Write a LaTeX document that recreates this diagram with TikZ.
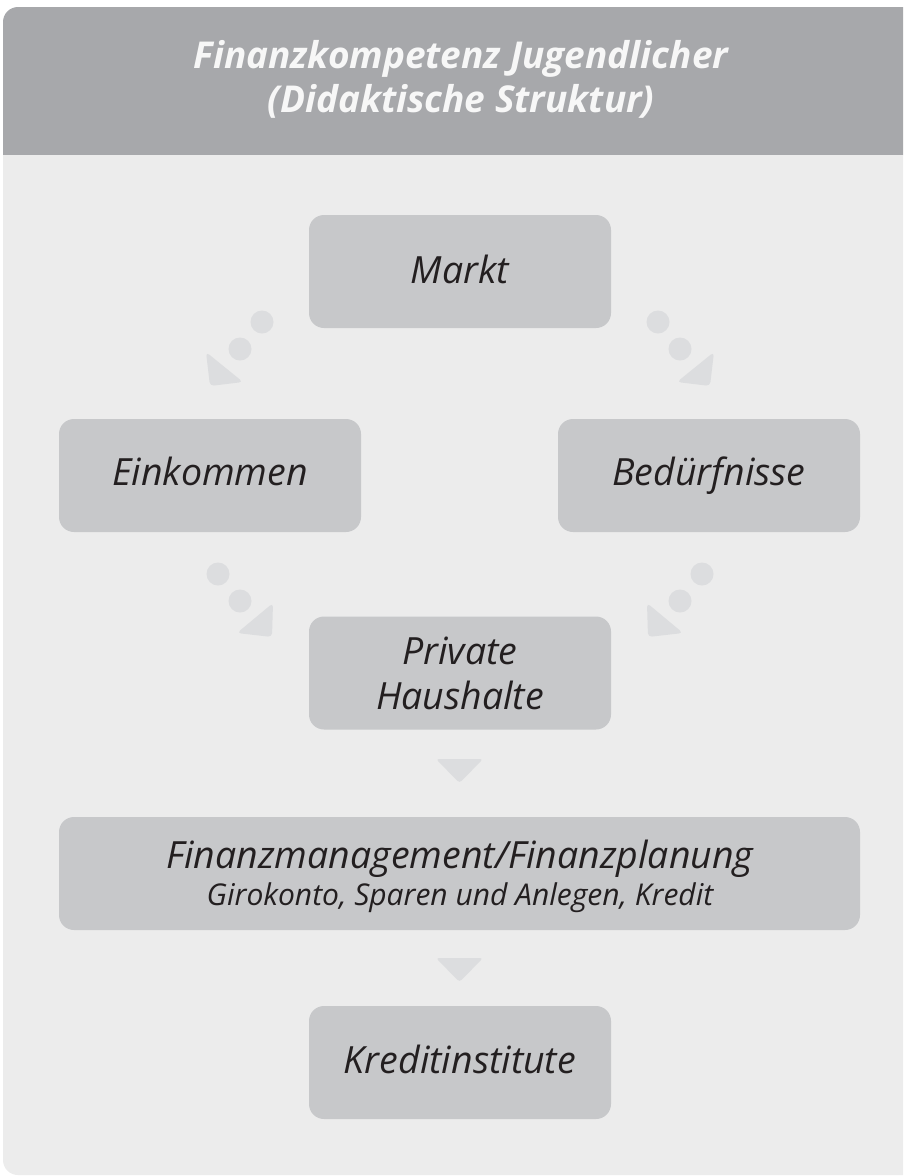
\documentclass[tikz,border=0pt]{standalone}
\usepackage{fontspec}
\setmainfont{Open Sans}
\definecolor{hdr}{HTML}{A7A8AB}
\definecolor{bodybg}{HTML}{ECECEC}
\definecolor{boxc}{HTML}{C7C8CA}
\definecolor{arr}{HTML}{DCDDDF}
\definecolor{txt}{HTML}{231F20}
\definecolor{ttl}{HTML}{F7F7F7}
\begin{document}
\begin{tikzpicture}[x=1pt,y=-1pt,
  card/.style={fill=boxc, rounded corners=15pt, minimum height=113pt, inner sep=0pt},
  smallcard/.style={card, minimum width=302pt},
  lbl/.style={anchor=base, inner sep=0pt, text=txt, font=\itshape\fontsize{37.5}{45}\selectfont},
  sublbl/.style={anchor=base, inner sep=0pt, text=txt, font=\itshape\fontsize{30}{36}\selectfont},
  ttlstyle/.style={anchor=base, inner sep=0pt, text=ttl, font=\bfseries\itshape\fontsize{37}{44}\selectfont},
  dot/.style={circle, fill=arr, minimum size=23pt, inner sep=0pt},
  tip/.style={fill=arr, rounded corners=4pt}
]
\useasboundingbox (0,0) rectangle (903,1176);
\clip (0,0) rectangle (903,1176);
\fill[white] (0,0) rectangle (903,1176);
% panel
\fill[hdr] (3,155) {[rounded corners=15pt] -- (3,7) -- (930,7)} -- (930,155) -- cycle;
\fill[bodybg] (3,155) {[rounded corners=15pt] -- (3,1175) -- (930,1175)} -- (930,155) -- cycle;
\node[ttlstyle] (t1) at (461,68) {Finanzkompetenz Jugendlicher};
\node[ttlstyle] (t2) at (461,112) {(Didaktische Struktur)};
% boxes
\node[smallcard] (markt) at (460,271.5) {};
\node[smallcard] (eink) at (210,475.5) {};
\node[smallcard] (bed) at (709,475.5) {};
\node[smallcard] (ph) at (460,673) {};
\node[card, minimum width=801pt] (fm) at (459.5,873.5) {};
\node[smallcard] (ki) at (460,1062.5) {};
\node[lbl] (lmarkt) at (460,283) {Markt};
\node[lbl] (leink) at (210,485) {Einkommen};
\node[lbl] (lbed) at (709,485) {Bedürfnisse};
\node[lbl] (lph1) at (460,664) {Private};
\node[lbl] (lph2) at (460,709) {Haushalte};
\node[lbl] (lfm1) at (460,868) {Finanzmanagement/Finanzplanung};
\node[sublbl] (lfm2) at (460,905) {Girokonto, Sparen und Anlegen, Kredit};
\node[lbl] (lki) at (460,1073) {Kreditinstitute};
% dotted arrows
\node[dot] (a1) at (262,322) {}; \node[dot] (a2) at (240,349) {};
\fill[tip] (206,352) -- (210,386) -- (243,382) -- cycle;
\node[dot] (b1) at (658,322) {}; \node[dot] (b2) at (680,349) {};
\fill[tip] (714,352) -- (710,386) -- (677,382) -- cycle;
\node[dot] (c1) at (218,574) {}; \node[dot] (c2) at (240,601) {};
\fill[tip] (273,603) -- (272,637) -- (237,633) -- cycle;
\node[dot] (d1) at (702,574) {}; \node[dot] (d2) at (680,601) {};
\fill[tip] (647,603) -- (648,637) -- (683,633) -- cycle;
% down arrows
\fill[tip, rounded corners=3pt] (436,759) -- (483,759) -- (459.5,783) -- cycle;
\fill[tip, rounded corners=3pt] (436,958) -- (483,958) -- (459.5,982) -- cycle;
\end{tikzpicture}
\end{document}
